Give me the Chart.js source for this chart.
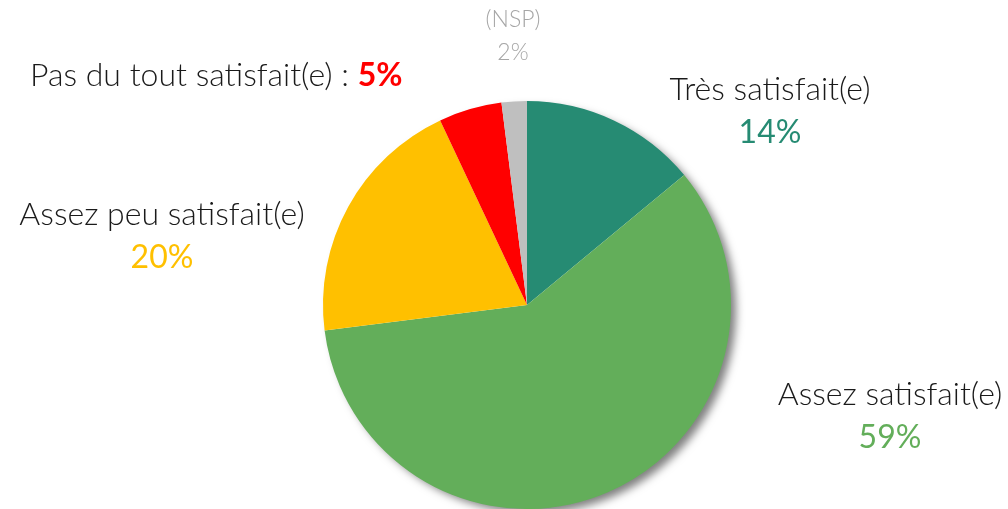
<!DOCTYPE html>
<html>
<head>
<meta charset="utf-8">
<script src="https://cdn.jsdelivr.net/npm/chart.js@4"></script>
<style>
  html, body { margin: 0; padding: 0; background: #fff; }
  #wrap { width: 1008px; height: 509px; position: relative; }
</style>
</head>
<body>
<div id="wrap"><canvas id="pieChart"></canvas></div>
<script>
// data
const categories = ['Très satisfait(e)', 'Assez satisfait(e)', 'Assez peu satisfait(e)', 'Pas du tout satisfait(e)', '(NSP)'];
const shares = [14, 59, 20, 5, 2];
const sliceColors = ['#268B73', '#63AE5A', '#FFC000', '#FF0000', '#BFBFBF'];

// label placement (text centre, in page pixels) and style
const labelFont = 'Lato, "Open Sans", sans-serif';
const labelBoxes = [
    { x: 770, y: 90, inline: false, size: 32, pctSize: 32 },
    { x: 890, y: 395, inline: false, size: 32, pctSize: 32 },
    { x: 162, y: 215, inline: false, size: 32, pctSize: 32 },
    { x: 30, y: 76, inline: true, size: 32, pctSize: 32 },
    { x: 513, y: 20, inline: false, size: 23, pctSize: 23, grey: true }
];

document.addEventListener('DOMContentLoaded', function() {
    const canvas = document.getElementById('pieChart');

    // soft shadow drawn behind the whole pie
    const pieShadow = {
        id: 'pieShadow',
        beforeDatasetsDraw(chart) {
            const arc = chart.getDatasetMeta(0).data[0];
            if (!arc) return;
            const ctx = chart.ctx;
            ctx.save();
            ctx.shadowColor = 'rgba(0,0,0,0.5)';
            ctx.shadowBlur = 9;
            ctx.shadowOffsetX = 6;
            ctx.shadowOffsetY = 5;
            ctx.fillStyle = '#ffffff';
            ctx.beginPath();
            ctx.arc(arc.x, arc.y, arc.outerRadius - 1, 0, Math.PI * 2);
            ctx.fill();
            ctx.restore();
        }
    };

    // category + percentage labels outside the pie
    const outsideLabels = {
        id: 'outsideLabels',
        afterDraw(chart) {
            const ctx = chart.ctx;
            ctx.save();
            ctx.textBaseline = 'middle';
            categories.forEach(function(name, i) {
                const box = labelBoxes[i];
                const pct = shares[i] + '%';
                const textColor = box.grey ? '#A6A6A6' : '#1a1a1a';
                const pctColor = box.grey ? '#A6A6A6' : sliceColors[i];
                if (box.inline) {
                    ctx.textAlign = 'left';
                    ctx.font = '300 ' + box.size + 'px ' + labelFont;
                    ctx.fillStyle = textColor;
                    const head = name + ' : ';
                    ctx.fillText(head, box.x, box.y);
                    const w = ctx.measureText(head).width;
                    ctx.font = '700 ' + box.pctSize + 'px ' + labelFont;
                    ctx.fillStyle = pctColor;
                    ctx.fillText(pct, box.x + w, box.y);
                } else {
                    ctx.textAlign = 'center';
                    ctx.font = '300 ' + box.size + 'px ' + labelFont;
                    ctx.fillStyle = textColor;
                    ctx.fillText(name, box.x, box.y);
                    ctx.font = (box.grey ? '300 ' : '400 ') + box.pctSize + 'px ' + labelFont;
                    ctx.fillStyle = pctColor;
                    ctx.fillText(pct, box.x, box.y + (box.grey ? 33 : 43));
                }
            });
            ctx.restore();
        }
    };

    new Chart(canvas.getContext('2d'), {
        type: 'pie',
        data: {
            labels: categories,
            datasets: [{
                data: shares,
                backgroundColor: sliceColors,
                borderWidth: 0
            }]
        },
        options: {
            responsive: true,
            maintainAspectRatio: false,
            animation: false,
            layout: { padding: { top: 101, bottom: 0, left: 323, right: 277 } },
            plugins: {
                legend: { display: false },
                tooltip: { enabled: false }
            }
        },
        plugins: [pieShadow, outsideLabels]
    });
});
</script>
</body>
</html>
